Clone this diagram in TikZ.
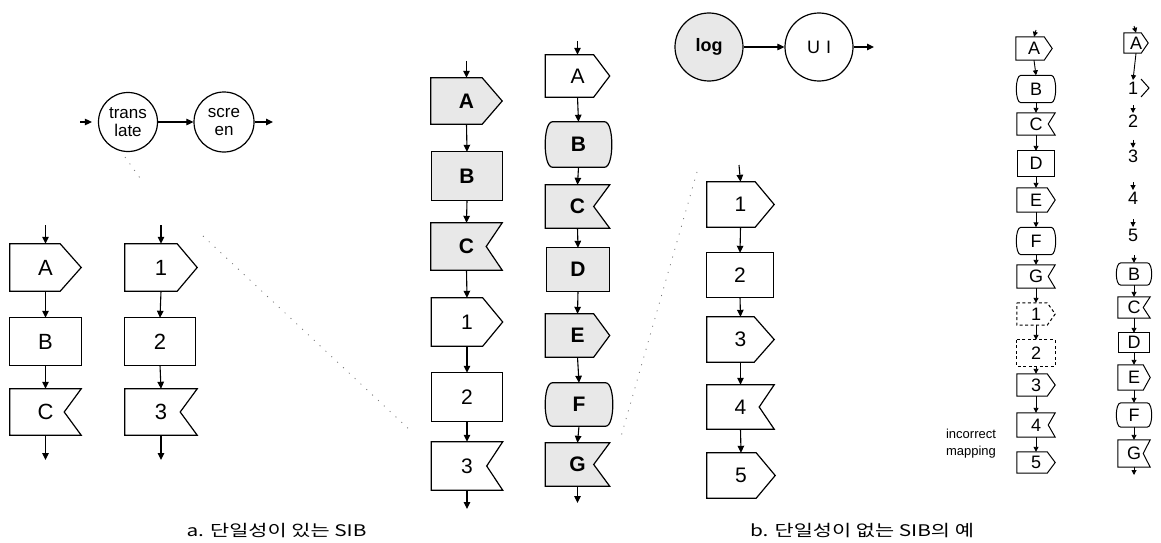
\documentclass[tikz,border=0pt]{standalone}
\usepackage{fontspec}
\setmainfont{Liberation Sans}
\newfontfamily\kr{Noto Sans CJK KR}
\usetikzlibrary{arrows.meta,backgrounds}
\newcommand\outPent[3][]{\draw[outl,#1] (#2.north west) -- ([xshift=-#3pt]#2.north east) -- (#2.east) -- ([xshift=-#3pt]#2.south east) -- (#2.south west) -- cycle;}
\newcommand\outFlag[3][]{\draw[outl,#1] (#2.north west) -- (#2.north east) -- ([xshift=-#3pt]#2.east) -- (#2.south east) -- (#2.south west) -- cycle;}
\newcommand\outRect[2][]{\draw[outl,#1] (#2.north west) rectangle (#2.south east);}
\newcommand\outBarrel[3][]{\draw[outl,#1] (#2.north west) -- (#2.north east) .. controls ([xshift=#3pt]#2.north east) and ([xshift=#3pt]#2.south east) .. (#2.south east) -- (#2.south west) .. controls ([xshift=-#3pt]#2.south west) and ([xshift=-#3pt]#2.north west) .. (#2.north west) -- cycle;}
\begin{document}
\begin{tikzpicture}[x=1pt,y=-1pt,
 every node/.style={inner sep=0pt},
 outl/.style={draw=black,line width=1.2pt,line join=miter},
 shd/.style={fill=black!9},
 dsh/.style={dash pattern=on 3pt off 2.5pt},
 arr/.style={draw=black,line width=1.1pt,-{Triangle[length=7pt,width=6.5pt]}},
 sarr/.style={draw=black,line width=0.9pt,-{Triangle[length=5pt,width=5pt]}},
 bigl/.style={rectangle,font=\fontsize{21}{23}\selectfont},
 biga/.style={rectangle,font=\fontsize{22}{24}\selectfont},
 bigb/.style={rectangle,font=\fontsize{21}{23}\selectfont\bfseries},
 smal/.style={rectangle,font=\fontsize{18}{20}\selectfont},
 numl/.style={rectangle,inner sep=1.5pt,font=\fontsize{18}{20}\selectfont},
 circ/.style={circle,draw=black,line width=1.2pt,align=center,font=\fontsize{17}{18}\selectfont},
 guide/.style={draw=black!55,line width=0.8pt,dash pattern=on 1pt off 7pt},
 captxt/.style={font=\kr\fontsize{16}{20}\selectfont},
 note/.style={align=left,font=\fontsize{13}{17}\selectfont}
]
\useasboundingbox (0,0) rectangle (1161,543);

% ---------- part a : circles
\node[circ,minimum size=59pt] (tr) at (128,122) {trans\\late};
\node[circ,minimum size=60pt] (sc) at (224,122) {scre\\en};
\coordinate (trin) at (80,122);
\coordinate (scout) at (273,122);

% part a left columns
\node[biga,minimum width=71pt,minimum height=47pt] (aA) at (45.5,267.5) {A};
\node[biga,minimum width=71pt,minimum height=47pt] (aB) at (45.5,341.5) {B};
\node[biga,minimum width=71pt,minimum height=46pt] (aC) at (45.5,412) {C};
\node[biga,minimum width=72pt,minimum height=47pt] (a1) at (161,267.5) {1};
\node[biga,minimum width=70pt,minimum height=47pt] (a2) at (160,341.5) {2};
\node[biga,minimum width=72pt,minimum height=46pt] (a3) at (161,412) {3};
\coordinate (aAin) at (45.5,225);
\coordinate (aCout) at (45.5,460);
\coordinate (a1in) at (161,225);
\coordinate (a3out) at (161,460);

% middle column 1
\node[bigb,minimum width=71pt,minimum height=46pt] (mA) at (466.5,101) {A};
\node[bigb,minimum width=70pt,minimum height=48pt] (mB) at (467,176) {B};
\node[bigb,minimum width=71pt,minimum height=47pt] (mC) at (466.5,246.5) {C};
\node[bigl,minimum width=71pt,minimum height=48pt] (m1) at (467,322) {1};
\node[bigl,minimum width=71pt,minimum height=48pt] (m2) at (467,397) {2};
\node[bigl,minimum width=71pt,minimum height=48pt] (m3) at (467,466) {3};
\coordinate (mAin) at (466.5,61);
\coordinate (m3out) at (467,509);

% middle column 2
\node[bigl,minimum width=64pt,minimum height=42pt] (nA) at (577.5,76) {A};
\node[bigb,minimum width=52pt,minimum height=45pt] (nB) at (578.5,144.5) {B};
\node[bigb,minimum width=64pt,minimum height=43pt] (nC) at (577.5,206.5) {C};
\node[bigb,minimum width=62pt,minimum height=43pt] (nD) at (578,269.5) {D};
\node[bigb,minimum width=64pt,minimum height=43pt] (nE) at (577.5,335.5) {E};
\node[bigb,minimum width=53pt,minimum height=43pt] (nF) at (579,404.5) {F};
\node[bigb,minimum width=64pt,minimum height=43pt] (nG) at (577.5,464.5) {G};
\coordinate (nAin) at (577.5,41);
\coordinate (nGout) at (577.5,503);

% ---------- part b : circles
\node[circ,minimum size=68pt,fill=black!9,font=\fontsize{18}{20}\selectfont\bfseries] (lg) at (709,47) {log};
\node[circ,minimum size=68pt,font=\fontsize{18}{20}\selectfont] (ui) at (819,47) {U\,\,I};
\coordinate (uiout) at (874,47);

% part b column
\node[bigl,minimum width=67pt,minimum height=45pt] (b1) at (740.5,204.5) {1};
\node[bigl,minimum width=66pt,minimum height=44pt] (b2) at (740,275) {2};
\node[bigl,minimum width=67pt,minimum height=45pt] (b3) at (740.5,339.5) {3};
\node[bigl,minimum width=67pt,minimum height=44pt] (b4) at (740.5,407) {4};
\node[bigl,minimum width=68pt,minimum height=45pt] (b5) at (741,475.5) {5};
\coordinate (b1in) at (739,165);

% small column 1
\node[smal,minimum width=36pt,minimum height=23pt] (sA) at (1034,48.5) {A};
\node[smal,minimum width=30pt,minimum height=27pt] (sB) at (1036,89) {B};
\node[smal,minimum width=38pt,minimum height=22pt] (sC) at (1036,124) {C};
\node[smal,minimum width=37pt,minimum height=25pt] (sD) at (1036,163.5) {D};
\node[smal,minimum width=38pt,minimum height=24pt] (sE) at (1036,200) {E};
\node[smal,minimum width=30pt,minimum height=27pt] (sF) at (1036,241) {F};
\node[smal,minimum width=38pt,minimum height=23pt] (sG) at (1036,276.5) {G};
\node[smal,minimum width=38pt,minimum height=22pt] (s1) at (1036,314) {1};
\node[smal,minimum width=38pt,minimum height=26pt] (s2) at (1036,353) {2};
\node[smal,minimum width=38pt,minimum height=22pt] (s3) at (1036,385) {3};
\node[smal,minimum width=38pt,minimum height=24pt] (s4) at (1036,425) {4};
\node[smal,minimum width=38pt,minimum height=21pt] (s5) at (1036,462.5) {5};
\coordinate (sAin) at (1036,30);
\node[note] (im) at (971,444) {incorrect\\mapping};

% small column 2
\node[smal,minimum width=24pt,minimum height=20pt] (tA) at (1136,43) {A};
\node[numl] (t1) at (1133,88) {1};
\node[numl] (t2) at (1133,121) {2};
\node[numl] (t3) at (1133,156) {3};
\node[numl] (t4) at (1133,198) {4};
\node[numl] (t5) at (1133,235) {5};
\node[smal,minimum width=26pt,minimum height=22pt] (tB) at (1134,274) {B};
\node[smal,minimum width=32pt,minimum height=21pt] (tC) at (1134,307.5) {C};
\node[smal,minimum width=30pt,minimum height=19pt] (tD) at (1134,342.5) {D};
\node[smal,minimum width=32pt,minimum height=25pt] (tE) at (1134,377.5) {E};
\node[smal,minimum width=26pt,minimum height=24pt] (tF) at (1134,415) {F};
\node[smal,minimum width=32pt,minimum height=27pt] (tG) at (1134,453.5) {G};
\coordinate (tAin) at (1134,26);
\coordinate (tGout) at (1134,475);

% captions
\node[captxt] (capa) at (276.5,531) {\scalebox{1.3}[1]{a. 단일성이 있는 SIB}};
\node[captxt] (capb) at (862,531) {\scalebox{1.3}[1]{b. 단일성이 없는 SIB의 예}};

% ---------- outlines (behind the text)
\begin{pgfonlayer}{background}
\fill[white] (0,0) rectangle (1161,543);
\outPent{aA}{21}\outRect{aB}\outFlag{aC}{17}
\outPent{a1}{20}\outRect{a2}\outFlag{a3}{17}
\outPent[shd]{mA}{20}\outRect[shd]{mB}\outFlag[shd]{mC}{16}
\outPent{m1}{20}\outRect{m2}\outFlag{m3}{16}
\outPent{nA}{16}\outBarrel[shd]{nB}{9.5}\outFlag[shd]{nC}{16}\outRect[shd]{nD}
\outPent[shd]{nE}{16}\outBarrel[shd]{nF}{9.5}\outFlag[shd]{nG}{16}
\outPent{b1}{19}\outRect{b2}\outPent{b3}{20}\outFlag{b4}{15}\outPent{b5}{19}
\outPent[line width=1pt]{sA}{8}\outBarrel[line width=1pt]{sB}{6}\outFlag[line width=1pt]{sC}{7}\outRect[line width=1pt]{sD}
\outPent[line width=1pt]{sE}{8}\outBarrel[line width=1pt]{sF}{6}\outFlag[line width=1pt]{sG}{7}
\outPent[line width=1pt,dsh]{s1}{8}\outRect[line width=1pt,dsh]{s2}
\outPent[line width=1pt]{s3}{8}\outFlag[line width=1pt]{s4}{7}\outPent[line width=1pt]{s5}{8}
\outPent[line width=1pt]{tA}{7}\outBarrel[line width=1pt]{tB}{6}\outFlag[line width=1pt]{tC}{7}\outRect[line width=1pt]{tD}
\outPent[line width=1pt]{tE}{7}\outBarrel[line width=1pt]{tF}{6}\outFlag[line width=1pt]{tG}{7}
\draw[outl,line width=1pt] ([shift={(8pt,9pt)}]t1.center) -- ([shift={(16pt,0pt)}]t1.center) -- ([shift={(8pt,-9pt)}]t1.center);
% faint guide lines
\draw[guide] (125,157) -- (140,178);
\draw[guide] (203,236) -- (412,432);
\draw[guide] (697,172) -- (620,440);
\end{pgfonlayer}

% ---------- connectors
\draw[arr] (trin) -- ([xshift=-6pt]tr.west);
\draw[arr] (tr) -- (sc);
\draw[arr] (sc) -- (scout);
\draw[arr] (aAin) -- (aA.north);
\draw[arr] (aA.south) -- (aB.north);
\draw[arr] (aB.south) -- (aC.north);
\draw[arr] (aC.south) -- (aCout);
\draw[arr] (a1in) -- (a1.north);
\draw[arr] (a1.south) -- (a2.north);
\draw[arr] (a2.south) -- (a3.north);
\draw[arr] (a3.south) -- (a3out);
\draw[arr] (mAin) -- (mA.north);
\foreach \u/\v in {mA/mB,mB/mC,mC/m1,m1/m2,m2/m3} \draw[arr] (\u.south) -- (\v.north);
\draw[arr] (m3.south) -- (m3out);
\draw[arr] (nAin) -- (nA.north);
\foreach \u/\v in {nA/nB,nB/nC,nC/nD,nD/nE,nE/nF,nF/nG} \draw[arr] (\u.south) -- (\v.north);
\draw[arr] (nG.south) -- (nGout);
\draw[arr] (lg) -- (ui);
\draw[arr] (ui) -- (uiout);
\draw[arr] (b1in) -- (b1.north);
\foreach \u/\v in {b1/b2,b2/b3,b3/b4,b4/b5} \draw[arr] (\u.south) -- (\v.north);
\draw[sarr] (sAin) -- (sA.north);
\foreach \u/\v in {sA/sB,sB/sC,sC/sD,sD/sE,sE/sF,sF/sG,sG/s1,s1/s2,s2/s3,s3/s4,s4/s5} \draw[sarr] (\u.south) -- (\v.north);
\draw[sarr] (tAin) -- (tA.north);
\draw[sarr] (tA.south) -- (t1.north);
\foreach \v in {t2,t3,t4,t5,tB} \draw[sarr] ([yshift=8pt]\v.north) -- (\v.north);
\foreach \u/\v in {tB/tC,tC/tD,tD/tE,tE/tF,tF/tG} \draw[sarr] (\u.south) -- (\v.north);
\draw[sarr] (tG.south) -- (tGout);
\end{tikzpicture}
\end{document}
